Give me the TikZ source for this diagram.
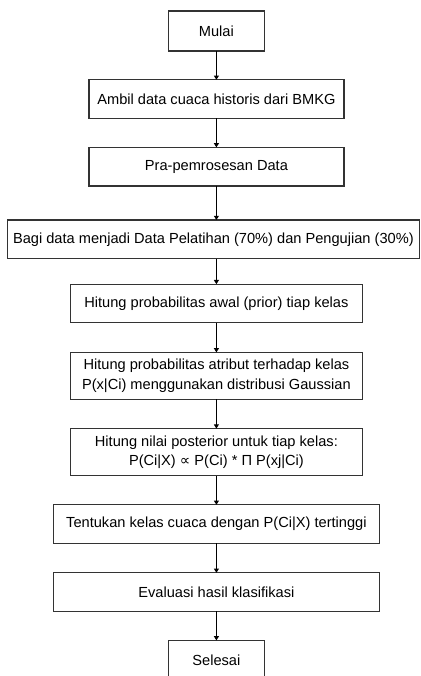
\documentclass[tikz,border=0pt]{standalone}
\usepackage{fontspec}
\setmainfont{Liberation Sans}
\newfontfamily\symfont{DejaVu Sans}
\usetikzlibrary{positioning,shapes,arrows.meta}
\definecolor{boxline}{rgb}{0.2,0.2,0.2}
\tikzstyle{pr}=[%
      rectangle, draw=boxline, line width=0.9pt, fill=white, outer sep=0pt,
      minimum height=0.965cm, inner sep=4pt, align=center,
      font=\fontsize{10.4}{13.8}\selectfont
]

\begin{document}
\begin{tikzpicture}[auto,
    line width=0.9pt,
    -{Triangle[length=3pt,width=3.5pt]}
  ]
    \clip (0,0) rectangle (10.5,-16.9);
    \node[pr, minimum width=2.39cm, minimum height=1cm]   (0) at (5.41,-0.775) {Mulai};
    \node[pr, minimum width=6.375cm] (1) [below = 0.72cm of 0] {Ambil data cuaca historis dari BMKG};
    \node[pr, minimum width=6.375cm] (2) [below = 0.725cm of 1] {Pra-pemrosesan Data};
    \node[pr, minimum width=10.275cm] (3) [below = 0.85cm of 2, xshift=-0.075cm] {Bagi data menjadi Data Pelatihan (70\%) dan Pengujian (30\%)};
    \node[pr, minimum width=7.29cm] (4) [below = 0.64cm of 3, xshift=0.075cm] {Hitung probabilitas awal (prior) tiap kelas};
    \node[pr, minimum width=7.29cm, minimum height=1.17cm] (5) [below = 0.74cm of 4] {Hitung probabilitas atribut terhadap kelas\\P(x|Ci) menggunakan distribusi Gaussian};
    \node[pr, minimum width=7.29cm, minimum height=1.18cm] (6) [below = 0.735cm of 5] {Hitung nilai posterior untuk tiap kelas:\\P(Ci|X) {\symfont ∝} P(Ci) * Π P(xj|Ci)};
    \node[pr, minimum width=8.15cm] (7) [below = 0.725cm of 6] {Tentukan kelas cuaca dengan P(Ci|X) tertinggi};
    \node[pr, minimum width=8.15cm] (8) [below = 0.735cm of 7] {Evaluasi hasil klasifikasi};
    \node[pr, minimum width=2.4cm, minimum height=1cm] (9) [below = 0.725cm of 8] {Selesai};

    \path (0) edge (1)
          (1) edge (2)
          (2) edge (2 |- 3.north)
          (4 |- 3.south) edge (4)
          (4) edge (5)
          (5) edge (6)
          (6) edge (7)
          (7) edge (8)
          (8) edge (9)
    ;

  \end{tikzpicture}
\end{document}
